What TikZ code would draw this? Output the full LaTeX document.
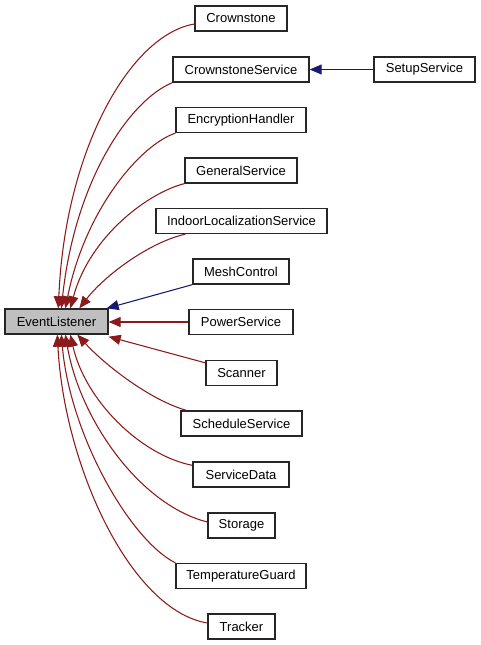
\documentclass[tikz,border=0pt]{standalone}
\usepackage{fontspec}
\setmainfont{Liberation Sans}
\usetikzlibrary{arrows.meta,calc}
\definecolor{edgered}{HTML}{8B1A1A}
\definecolor{edgeblue}{HTML}{191970}
\definecolor{basefill}{HTML}{BFBFBF}
\tikzset{
  cls/.style={draw=black!85, line width=1pt, fill=white, inner sep=0pt,
    minimum height=18.75pt, font=\fontsize{9.75pt}{11pt}\selectfont},
  basecls/.style={cls, fill=basefill},
  redge/.style={draw=edgered, line width=0.8pt, -{Triangle[length=9pt,width=7.5pt]}},
  bedge/.style={draw=edgeblue, line width=0.8pt, -{Triangle[length=9pt,width=7.5pt]}}
}
\begin{document}
\begin{tikzpicture}[x=0.75pt,y=-0.75pt]
\useasboundingbox (0,0) rectangle (480,645);
% nodes
\node[basecls, minimum width=103*0.75pt] (el) at (56.5,321.5) {EventListener};
\node[cls, minimum width=92*0.75pt]  (crown)   at (241,18.5)  {Crownstone};
\node[cls, minimum width=136*0.75pt] (cs)      at (241,69.5)  {CrownstoneService};
\node[cls, minimum width=101*0.75pt] (setup)   at (424.5,69.5) {SetupService};
\node[cls, minimum width=130*0.75pt] (enc)     at (241,120)   {EncryptionHandler};
\node[cls, minimum width=112*0.75pt] (general) at (241,170.5) {GeneralService};
\node[cls, minimum width=171*0.75pt] (indoor)  at (241.5,221) {IndoorLocalizationService};
\node[cls, minimum width=96*0.75pt]  (mesh)    at (241,271.5) {MeshControl};
\node[cls, minimum width=104*0.75pt] (power)   at (241,322)   {PowerService};
\node[cls, minimum width=71*0.75pt]  (scanner) at (241.5,373) {Scanner};
\node[cls, minimum width=121*0.75pt] (sched)   at (241.5,423.5) {ScheduleService};
\node[cls, minimum width=96*0.75pt]  (sdata)   at (241,474.5) {ServiceData};
\node[cls, minimum width=67*0.75pt]  (storage) at (241.5,525.5) {Storage};
\node[cls, minimum width=130*0.75pt] (temp)    at (241,576)   {TemperatureGuard};
\node[cls, minimum width=67*0.75pt]  (tracker) at (241.5,626.5) {Tracker};
% edges (top)
\draw[redge] ($(crown.west)+(0,5.5)$) .. controls (130,35) and (65,150) .. ($(el.north west)+(54,0)$);
\draw[redge] (cs.south west) .. controls (130,100) and (75,180) .. ($(el.north west)+(57,0)$);
\draw[redge] (enc.south west) .. controls (140,145) and (85,210) .. ($(el.north west)+(61,0)$);
\draw[redge] (general.south west) .. controls (150,192) and (90,235) .. ($(el.north west)+(66,0)$);
\draw[redge] ($(indoor.south west)+(30,0)$) .. controls (150,242) and (105,275) .. ($(el.north west)+(75,0)$);
\draw[bedge] (mesh.south west) -- ($(el.north east)+(-2,0)$);
\draw[bedge] (setup.west) -- (cs.east);
\draw[redge] (power.west) -- (el.east |- power.west);
\draw[redge] ($(scanner.north west)+(0,3)$) -- ($(el.south east)+(0,2)$);
% edges (bottom)
\draw[redge] ($(sched.north west)+(6,0)$) .. controls (150,400) and (105,365) .. ($(el.south west)+(73,0)$);
\draw[redge] ($(sdata.north west)+(0,4)$) .. controls (140,455) and (85,400) .. ($(el.south west)+(66,0)$);
\draw[redge] ($(storage.west)+(0,-3.5)$) .. controls (140,505) and (80,420) .. ($(el.south west)+(61,0)$);
\draw[redge] (temp.north west) .. controls (130,540) and (70,435) .. ($(el.south west)+(57,0)$);
\draw[redge] ($(tracker.west)+(0,-3.5)$) .. controls (130,610) and (64,465) .. ($(el.south west)+(53,0)$);
\end{tikzpicture}
\end{document}
